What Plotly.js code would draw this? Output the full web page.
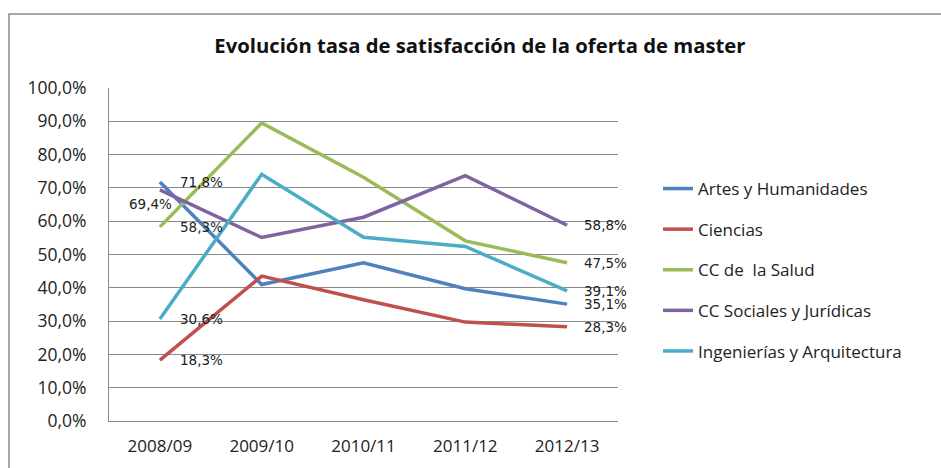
<!DOCTYPE html>
<html>
<head>
<meta charset="utf-8">
<script src="https://cdn.plot.ly/plotly-3.0.1.min.js"></script>
<style>html,body{margin:0;padding:0;background:#fff;}#chart{width:941px;height:468px;}</style>
</head>
<body>
<div id="chart"></div>
<script>
// ---- data ----
const categories = ["2008/09", "2009/10", "2010/11", "2011/12", "2012/13"];
const seriesNames = ["Artes y Humanidades", "Ciencias", "CC de  la Salud", "CC Sociales y Jurídicas", "Ingenierías y Arquitectura"];
const artesHumanidades = [0.718, 0.410, 0.475, 0.397, 0.351];
const ciencias = [0.183, 0.435, 0.364, 0.297, 0.283];
const ccSalud = [0.583, 0.895, 0.732, 0.541, 0.475];
const ccSociales = [0.694, 0.551, 0.612, 0.737, 0.588];
const ingenierias = [0.306, 0.741, 0.552, 0.524, 0.391];
const yTickValues = [0, 0.1, 0.2, 0.3, 0.4, 0.5, 0.6, 0.7, 0.8, 0.9, 1.0];

// ---- styles ----
const seriesValues = [artesHumanidades, ciencias, ccSalud, ccSociales, ingenierias];
const colors = ["#4F81BD", "#C0504D", "#9BBB59", "#8064A2", "#4BACC6"];
const firstLabelStyle = [
  {xanchor: "left", xshift: 18, yshift: 0},
  {xanchor: "left", xshift: 18, yshift: 0},
  {xanchor: "left", xshift: 18, yshift: 0},
  {xanchor: "center", xshift: -9, yshift: -14},
  {xanchor: "left", xshift: 18, yshift: 0}
];
const gridColor = "#8a8a8a";
const fmt = v => (v * 100).toFixed(1).replace(".", ",") + "%";

const traces = seriesValues.map((vals, i) => ({
  type: "scatter",
  mode: "lines",
  x: categories,
  y: vals,
  name: seriesNames[i],
  legendgroup: "g" + i,
  line: {color: colors[i], width: 3.5},
  hoverinfo: "skip"
}));

const annotations = [];
seriesValues.forEach((vals, i) => {
  const f = firstLabelStyle[i];
  annotations.push({
    x: categories[0], y: vals[0], text: fmt(vals[0]), showarrow: false,
    xanchor: f.xanchor, yanchor: "middle", xshift: f.xshift, yshift: f.yshift,
    font: {family: "DejaVu Sans", size: 13.5, color: "#222"}
  });
  const n = vals.length - 1;
  annotations.push({
    x: categories[n], y: vals[n], text: fmt(vals[n]), showarrow: false,
    xanchor: "left", yanchor: "middle", xshift: 15, yshift: 0,
    font: {family: "DejaVu Sans", size: 13.5, color: "#222"}
  });
});

const layout = {
  width: 941, height: 468,
  margin: {l: 109, r: 323, t: 88, b: 47, pad: 0},
  paper_bgcolor: "#fff", plot_bgcolor: "#fff",
  separators: ",.",
  font: {family: "Open Sans, sans-serif", size: 18, color: "#222"},
  title: {
    text: "<b>Evolución tasa de satisfacción de la oferta de master</b>",
    font: {family: "Open Sans, sans-serif", size: 20.3, color: "#111"},
    x: 0.51, xanchor: "center", xref: "container",
    y: 0.902, yanchor: "middle", yref: "container"
  },
  xaxis: {
    type: "category",
    range: [-0.5, 4.5],
    showgrid: false, zeroline: false,
    showline: true, linecolor: gridColor, linewidth: 1,
    ticks: "", ticklabelstandoff: 10,
    tickfont: {family: "Open Sans, sans-serif", size: 17, color: "#222"},
    fixedrange: true
  },
  yaxis: {
    range: [0, 1],
    tickvals: yTickValues,
    tickformat: ".1%",
    showgrid: true, gridcolor: gridColor, gridwidth: 1,
    zeroline: false,
    showline: true, linecolor: gridColor, linewidth: 1,
    ticks: "", ticklabelstandoff: 18,
    tickfont: {family: "Open Sans, sans-serif", size: 17.5, color: "#222"},
    fixedrange: true
  },
  legend: {
    x: (658 - 109) / 509, xanchor: "left",
    y: (421 - 171) / 333, yanchor: "top",
    traceorder: "grouped", tracegroupgap: 15.5,
    bgcolor: "rgba(0,0,0,0)", borderwidth: 0,
    font: {family: "Open Sans, sans-serif", size: 17, color: "#222"}
  },
  showlegend: true,
  annotations: annotations,
  shapes: [{
    type: "rect", xref: "paper", yref: "paper",
    x0: (9 - 109) / 509, x1: (960 - 109) / 509,
    y0: (421 - 490) / 333, y1: (421 - 14) / 333,
    line: {color: "#8a8a8a", width: 1.5}, fillcolor: "rgba(0,0,0,0)", layer: "below"
  }]
};

Plotly.newPlot("chart", traces, layout, {displayModeBar: false, staticPlot: true});
</script>
</body>
</html>
